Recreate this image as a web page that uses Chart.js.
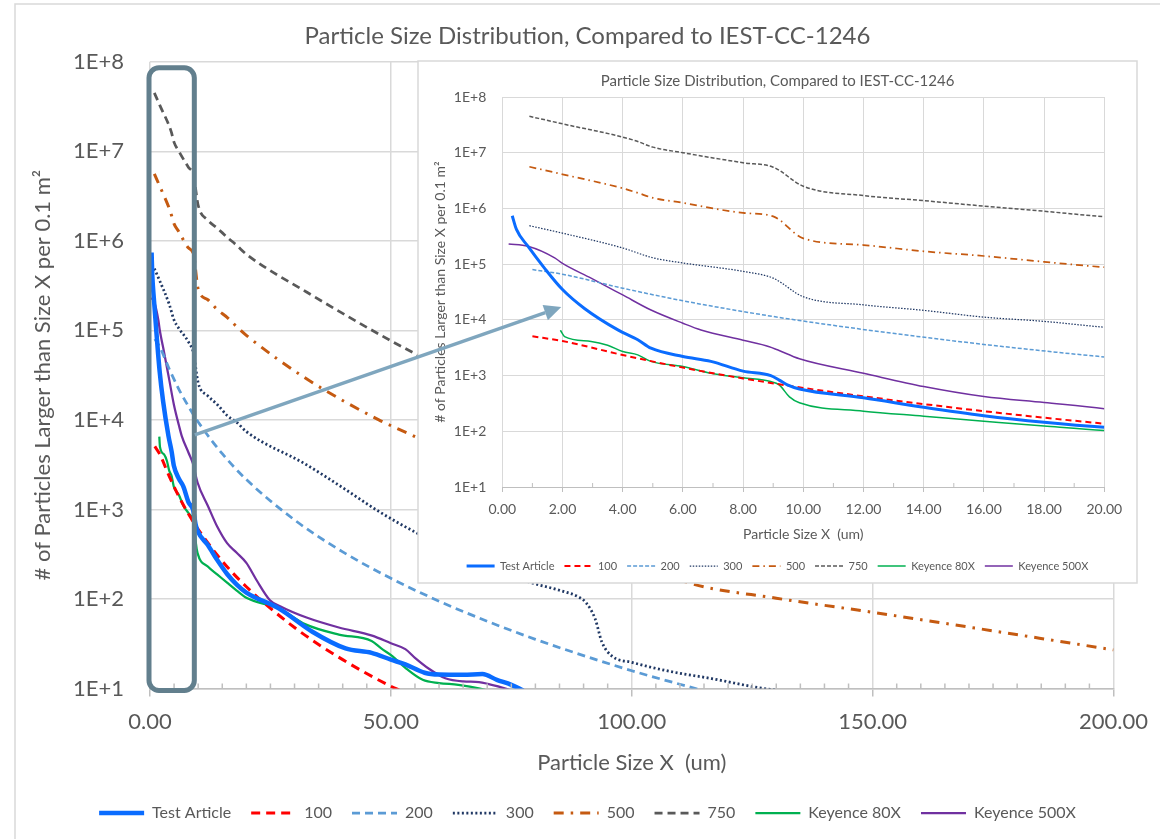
<!DOCTYPE html>
<html>
<head>
<meta charset="utf-8">
<title>Particle Size Distribution</title>
<script src="https://cdn.jsdelivr.net/npm/chart.js@4.4.1/dist/chart.umd.min.js"></script>
<style>
  html, body { margin: 0; padding: 0; background: #fff; }
  #wrap { position: relative; width: 1160px; height: 839px; }
  #wrap canvas { position: absolute; left: 0; top: 0; }
</style>
</head>
<body>
<div id="wrap">
  <canvas id="main" width="1160" height="839"></canvas>
  <canvas id="inset" width="1160" height="839"></canvas>
</div>
<script>
// values: x = particle size (um), y = count per 0.1 m2
const TITLE = 'Particle Size Distribution, Compared to IEST-CC-1246';
const X_TITLE = 'Particle Size X  (um)';
const Y_TITLE = '# of Particles Larger than Size X per 0.1 m\u00B2';
const yTicks = [1e1, 1e2, 1e3, 1e4, 1e5, 1e6, 1e7, 1e8];

const seriesNames = ['Test Article', '100', '200', '300', '500', '750', 'Keyence 80X', 'Keyence 500X'];

const testX = [0.33, 0.47, 0.85, 1.4, 2.0, 2.73, 3.84, 4.5, 4.94, 6.0, 6.93, 8.0, 8.92, 9.2, 9.47, 9.87, 12, 14, 16, 18, 20, 26.8, 33.7, 40.6, 46, 50, 53, 57, 60, 65, 69, 72, 75, 77.5];
const testY = [7.4e5, 4.2e5, 2.1e5, 8.5e4, 3.5e4, 1.6e4, 6.6e3, 4.4e3, 3.1e3, 2.2e3, 1.8e3, 1.2e3, 1.0e3, 830, 680, 575, 400, 270, 190, 145, 118, 78, 43, 28, 25, 21, 18.6, 15, 14.3, 14.2, 14.5, 12.5, 11, 9.5];

const c100X = [1, 2, 4, 6, 8, 10, 15, 20, 30, 40, 50, 52];
const c100Y = [5060, 4170, 2340, 1390, 890, 600, 265, 137, 48, 21, 10.6, 9.5];

const c200X = [1, 2, 4, 6, 8, 10, 15, 20, 30, 40, 50, 60, 70, 80, 90, 100, 115];
const c200Y = [80000, 65900, 37000, 22000, 14100, 9500, 4190, 2160, 764, 336, 170, 94.5, 56.4, 35.4, 23.3, 15.8, 9.4];

const c300X = [0.9, 2, 4, 5, 6, 8, 9, 10, 12, 14, 16, 18, 20, 32.3, 40, 47.5, 55, 65, 78.6, 85, 89, 90.5, 92.4, 93.8, 95.9, 100, 108, 116.6, 126.4, 130];
const c300Y = [4.9e5, 3.6e5, 1.95e5, 1.3e5, 1.05e5, 7.4e4, 5.6e4, 2.6e4, 1.86e4, 1.48e4, 1.12e4, 9.4e3, 7.4e3, 3.2e3, 1.75e3, 950, 560, 305, 155, 125, 105, 91, 60, 33, 23, 19.6, 15.5, 12.9, 10.2, 9.6];

const c500X = [0.9, 2, 4, 4.5, 5, 6, 8, 9, 10, 12, 14, 16, 18, 20, 32.4, 47.5, 55, 60, 70, 80, 90, 95, 100, 112, 130, 150, 175, 200];
const c500Y = [5.6e6, 4.1e6, 2.3e6, 1.9e6, 1.55e6, 1.26e6, 8.3e5, 7.2e5, 2.9e5, 2.2e5, 1.7e5, 1.4e5, 1.1e5, 8.8e4, 2.9e4, 1.0e4, 6.5e3, 4.7e3, 2.7e3, 1.7e3, 1.1e3, 400, 270, 150, 102, 71, 44, 27];

const c750X = [0.9, 2, 4.4, 5, 6, 8, 9, 10, 12, 14, 16, 18, 20, 32.4, 55, 60, 70, 80, 90, 95, 100, 112, 150, 200];
const c750Y = [4.5e7, 3.3e7, 1.66e7, 1.26e7, 1.0e7, 6.6e6, 5.5e6, 2.5e6, 1.7e6, 1.38e6, 1.1e6, 8.9e5, 7.1e5, 2.7e5, 5.5e4, 4.1e4, 2.4e4, 1.5e4, 9.8e3, 3.2e3, 2.2e3, 1.2e3, 580, 220];

const k80X = [1.93, 2.07, 2.95, 3.5, 4.0, 4.5, 4.94, 6.0, 6.93, 8.0, 8.92, 9.2, 9.54, 9.87, 12, 14, 16, 18, 20, 26.8, 32.3, 39.2, 46, 48, 50.3, 53, 56.6, 60, 64, 68.5, 70];
const k80Y = [6.5e3, 5.0e3, 4.1e3, 3.5e3, 2.7e3, 2.35e3, 1.8e3, 1.45e3, 1.1e3, 910, 780, 680, 415, 325, 230, 187, 152, 124, 103, 78, 52, 40, 34, 28, 23, 17, 12.5, 11.5, 11, 10, 9.5];

const k500X = [0.21, 0.85, 1.74, 2.0, 2.95, 4.0, 4.94, 6.0, 6.6, 8.0, 8.87, 9.14, 9.87, 12, 14, 16, 18, 20, 22.1, 24.9, 27, 32.5, 39.2, 46.1, 50, 53, 55, 57.9, 61.3, 65, 68.3, 70.3, 73.8, 75];
const k500Y = [2.3e5, 2.1e5, 1.3e5, 1.03e5, 5.6e4, 2.8e4, 1.5e4, 8.7e3, 6.6e3, 4.3e3, 3.3e3, 2.9e3, 2.0e3, 1.1e3, 635, 420, 328, 253, 163, 97, 83, 62, 48, 39, 32, 27.5, 22, 16.6, 13, 12, 11.8, 11.2, 10, 9.5];

const seriesX = [testX, c100X, c200X, c300X, c500X, c750X, k80X, k500X];
const seriesY = [testY, c100Y, c200Y, c300Y, c500Y, c750Y, k80Y, k500Y];

// line looks: [colour, width main, dash main, width inset, dash inset]
const looks = [
  ['#0a6cff', 4.5, [], 3, []],
  ['#ff0000', 3, [9, 6], 2, [6, 4]],
  ['#5b9bd5', 2.75, [8, 5], 1.5, [4, 2]],
  ['#203864', 2.75, [2, 2.5], 1.25, [1.5, 1.5]],
  ['#c55a11', 3, [10, 7, 2.5, 7], 1.75, [7, 4, 1.5, 4]],
  ['#595959', 2.75, [8, 5], 1.5, [4, 2]],
  ['#00b050', 2.25, [], 1.5, []],
  ['#7030a0', 2.25, [], 1.5, []]
];

function makeSets(inset) {
  return seriesNames.map((name, i) => {
    const lk = looks[i];
    return {
      label: name,
      data: seriesX[i].map((x, j) => ({ x, y: seriesY[i][j] })),
      showLine: true,
      borderColor: lk[0],
      backgroundColor: lk[0],
      borderWidth: inset ? lk[3] : lk[1],
      borderDash: inset ? lk[4] : lk[2],
      pointRadius: 0,
      pointHoverRadius: 0,
      cubicInterpolationMode: 'monotone'
    };
  });
}

function legendItems(chart) {
  return chart.data.datasets.map((d, i) => ({
    text: d.label,
    strokeStyle: d.borderColor,
    fillStyle: d.borderColor,
    lineWidth: d.borderWidth,
    lineDash: d.borderDash,
    pointStyle: 'line',
    fontColor: '#595959',
    hidden: false,
    datasetIndex: i
  }));
}

Chart.defaults.font.family = "Lato, 'Liberation Sans', sans-serif";
Chart.defaults.color = '#595959';

const GRID = '#d9d9d9';
const AXIS = '#bfbfbf';
const logLabel = (v) => '1E+' + Math.round(Math.log10(v));

const mainDecor = {
  id: 'mainDecor',
  beforeDraw(chart) {
    const c = chart.ctx;
    c.save();
    c.strokeStyle = GRID;
    c.lineWidth = 1.5;
    c.beginPath();
    c.moveTo(15, 839); c.lineTo(15, 4); c.lineTo(1160, 4);
    c.stroke();
    c.restore();
  },
  afterDatasetsDraw(chart) {
    const { ctx: c, chartArea: a, scales: { x } } = chart;
    c.save();
    c.strokeStyle = AXIS;
    c.lineWidth = 1.5;
    for (let v = 5; v < 200; v += 5) {
      if (v % 50 === 0) continue;
      const px = x.getPixelForValue(v);
      c.beginPath(); c.moveTo(px, a.bottom); c.lineTo(px, a.bottom - 5); c.stroke();
    }
    // frame round the 0-10 um strip
    const l = x.getPixelForValue(0) - 1, r = x.getPixelForValue(9.2);
    const t = a.top + 6, b = a.bottom + 2;
    c.strokeStyle = '#627f8d';
    c.lineWidth = 5;
    c.beginPath();
    c.roundRect(l, t, r - l, b - t, 10);
    c.stroke();
    c.restore();
  }
};

const mainChart = new Chart(document.getElementById('main'), {
  type: 'scatter',
  data: { datasets: makeSets(false) },
  options: {
    responsive: false,
    animation: false,
    events: [],
    layout: { padding: { left: 15, right: 0, top: 0, bottom: 8 } },
    plugins: {
      title: { display: true, text: TITLE, color: '#595959', font: { size: 24, weight: 'normal' }, padding: { top: 22, bottom: 11 } },
      legend: {
        position: 'bottom',
        labels: { usePointStyle: true, pointStyleWidth: 45, padding: 20, color: '#595959', font: { size: 16 }, generateLabels: legendItems }
      },
      tooltip: { enabled: false }
    },
    scales: {
      x: {
        type: 'linear', min: 0, max: 200,
        ticks: { stepSize: 5, autoSkip: false, maxRotation: 0, padding: 12, font: { size: 22 },
          callback: (v) => v % 50 === 0 ? v.toFixed(2) : '' },
        grid: { color: (c) => c.tick && c.tick.value % 50 === 0 ? GRID : 'rgba(0,0,0,0)',
          tickColor: (c) => c.tick && c.tick.value % 50 === 0 ? AXIS : 'rgba(0,0,0,0)', tickLength: 8, lineWidth: 1.5 },
        border: { display: true, color: AXIS, width: 1.5 },
        title: { display: true, text: X_TITLE, font: { size: 22 }, padding: { top: 0, bottom: 9 } },
        afterFit(s) { s.height = 96.5; }
      },
      y: {
        type: 'logarithmic', min: 10, max: 1e8,
        afterBuildTicks(s) { s.ticks = yTicks.map((v) => ({ value: v })); },
        ticks: { padding: 26, font: { size: 22 }, callback: logLabel },
        grid: { color: GRID, drawTicks: false, lineWidth: 1.5 },
        border: { display: false },
        title: { display: true, text: Y_TITLE, font: { size: 22 }, padding: { top: 15, bottom: 0 } },
        afterFit(s) { s.width = 135; }
      },
      gap: {
        type: 'linear', axis: 'y', position: 'right',
        grid: { display: false }, ticks: { display: false }, border: { display: false },
        afterFit(s) { s.width = 45; }
      }
    }
  },
  plugins: [mainDecor]
});

const insetDecor = {
  id: 'insetDecor',
  beforeDraw(chart) {
    const c = chart.ctx;
    c.save();
    c.fillStyle = '#fff';
    c.fillRect(418, 61, 719, 522);
    c.strokeStyle = GRID;
    c.lineWidth = 1.5;
    c.strokeRect(418, 61, 719, 522);
    c.restore();
  },
  afterDatasetsDraw(chart) {
    const { ctx: c, chartArea: a, scales: { x } } = chart;
    c.save();
    c.strokeStyle = AXIS;
    c.lineWidth = 1;
    for (let v = 1; v < 20; v += 2) {
      const px = x.getPixelForValue(v);
      c.beginPath(); c.moveTo(px, a.bottom); c.lineTo(px, a.bottom - 4); c.stroke();
    }
    c.restore();
  },
  afterDraw(chart) {
    // arrow from the framed strip of the main chart into the zoomed view
    const c = chart.ctx;
    const sx = mainChart.scales.x.getPixelForValue(9.3);
    const sy = mainChart.scales.y.getPixelForValue(6800);
    const ex = chart.scales.x.getPixelForValue(1.96);
    const ey = chart.scales.y.getPixelForValue(17000);
    const ang = Math.atan2(ey - sy, ex - sx);
    const head = 17, half = 8;
    const bx = ex - Math.cos(ang) * head, by = ey - Math.sin(ang) * head;
    c.save();
    c.strokeStyle = '#7fa6be';
    c.fillStyle = '#7fa6be';
    c.lineWidth = 3.5;
    c.beginPath(); c.moveTo(sx, sy); c.lineTo(bx, by); c.stroke();
    c.beginPath();
    c.moveTo(ex, ey);
    c.lineTo(bx + Math.sin(ang) * half, by - Math.cos(ang) * half);
    c.lineTo(bx - Math.sin(ang) * half, by + Math.cos(ang) * half);
    c.closePath();
    c.fill();
    c.restore();
  }
};

new Chart(document.getElementById('inset'), {
  type: 'scatter',
  data: { datasets: makeSets(true) },
  options: {
    responsive: false,
    animation: false,
    events: [],
    layout: { padding: { left: 418, right: 23, top: 61, bottom: 257.5 } },
    plugins: {
      title: { display: true, text: TITLE, color: '#595959', font: { size: 15, weight: 'normal' }, padding: { top: 11, bottom: 7 } },
      legend: {
        position: 'bottom',
        labels: { usePointStyle: true, pointStyleWidth: 28, padding: 10, color: '#595959', font: { size: 11 }, generateLabels: legendItems }
      },
      tooltip: { enabled: false }
    },
    scales: {
      x: {
        type: 'linear', min: 0, max: 20,
        ticks: { stepSize: 1, autoSkip: false, maxRotation: 0, padding: 9, font: { size: 14 },
          callback: (v) => v % 2 === 0 ? v.toFixed(2) : '' },
        grid: { color: (c) => c.tick && c.tick.value % 2 === 0 ? GRID : 'rgba(0,0,0,0)',
          tickColor: (c) => c.tick && c.tick.value % 2 === 0 ? AXIS : 'rgba(0,0,0,0)', tickLength: 5 },
        border: { display: true, color: AXIS, width: 1 },
        title: { display: true, text: X_TITLE, font: { size: 14 }, padding: { top: 0, bottom: 8 } },
        afterFit(s) { s.height = 63.5; }
      },
      y: {
        type: 'logarithmic', min: 10, max: 1e8,
        afterBuildTicks(s) { s.ticks = yTicks.map((v) => ({ value: v })); },
        ticks: { padding: 16, font: { size: 14 }, callback: logLabel },
        grid: { color: GRID, drawTicks: false },
        border: { display: false },
        title: { display: true, text: Y_TITLE, font: { size: 14 }, padding: { top: 14, bottom: 0 } },
        afterFit(s) { s.width = 84.3; }
      },
      gap: {
        type: 'linear', axis: 'y', position: 'right',
        grid: { display: false }, ticks: { display: false }, border: { display: false },
        afterFit(s) { s.width = 32.7; }
      }
    }
  },
  plugins: [insetDecor]
});
</script>
</body>
</html>
